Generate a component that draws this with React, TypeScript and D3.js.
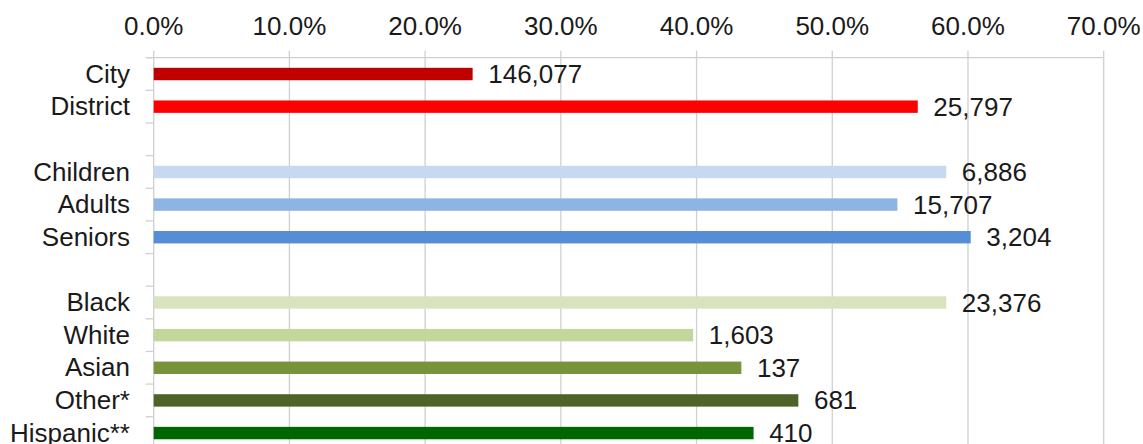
import * as d3 from "d3";

const categories = ["City", "District", "", "Children", "Adults", "Seniors", " ", "Black", "White", "Asian", "Other*", "Hispanic**"];
const shares = [0.235, 0.563, null, 0.584, 0.548, 0.602, null, 0.584, 0.3975, 0.433, 0.475, 0.442];
const counts = ["146,077", "25,797", "", "6,886", "15,707", "3,204", "", "23,376", "1,603", "137", "681", "410"];
const colors = ["#C00000", "#FF0000", "none", "#C6D9F1", "#8DB4E2", "#558ED5", "none", "#D7E4BD", "#C3D69B", "#77933C", "#4F6228", "#006600"];
const ticks = [0, 0.1, 0.2, 0.3, 0.4, 0.5, 0.6, 0.7];

const W = 1143;
const H = 444;
const font = "'Liberation Sans', Arial, sans-serif";

export default function App() {
  const x = d3.scaleLinear().domain([0, 0.7]).range([153.7, 1103.7]);
  const y = d3
    .scaleBand<string>()
    .domain(categories)
    .range([57.7, 57.7 + 12 * 32.64])
    .paddingInner(0.62)
    .paddingOuter(0.31);
  const step = y.step();
  const top = 57.7;
  const bounds = d3.range(categories.length + 1).map((i) => top + i * step);
  const fmt = d3.format(".1%");

  return (
    <svg width={W} height={H} style={{ position: "absolute", left: 0, top: 0, background: "#fff" }} fontFamily={font}>
      {/* vertical gridlines + top ticks */}
      {ticks.map((t) => (
        <line key={t} x1={x(t)} x2={x(t)} y1={50.7} y2={H + 10} stroke="#D0D0D0" strokeWidth={1.3} />
      ))}
      <line x1={x(0) - 8} x2={x(0.7)} y1={top} y2={top} stroke="#D0D0D0" strokeWidth={1.3} />
      {bounds.map((b, i) => (
        <line key={i} x1={x(0) - 8} x2={x(0)} y1={b} y2={b} stroke="#D0D0D0" strokeWidth={1.3} />
      ))}
      {ticks.map((t) => (
        <text key={t} x={x(t)} y={34.5} textAnchor="middle" fontSize={26} fill="#1a1a1a">
          {fmt(t)}
        </text>
      ))}
      {categories.map((c, i) => {
        const yc = (y(c) as number) + y.bandwidth() / 2;
        const v = shares[i];
        return (
          <g key={c + i}>
            <text x={130} y={yc + 8.7} textAnchor="end" fontSize={26} fill="#1a1a1a">
              {c.trim()}
            </text>
            {v !== null && (
              <>
                <rect x={x(0)} y={y(c)} width={x(v) - x(0)} height={y.bandwidth()} fill={colors[i]} />
                <text x={x(v) + 15.6} y={yc + 9} fontSize={26} fill="#1a1a1a">
                  {counts[i]}
                </text>
              </>
            )}
          </g>
        );
      })}
    </svg>
  );
}
